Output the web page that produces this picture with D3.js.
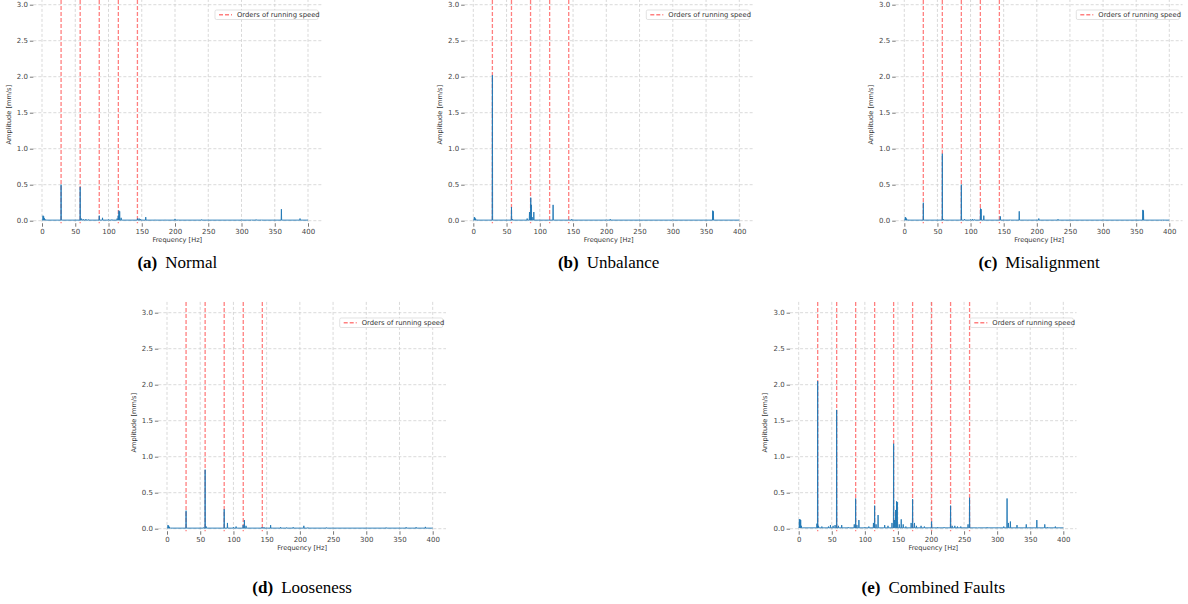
<!DOCTYPE html>
<html>
<head>
<script src="https://d3js.org/d3.v7.min.js"></script>
<style>
  body { margin: 0; background: #fff; }
</style>
</head>
<body>
<svg id="fig" width="1188" height="604"></svg>
<script>
// ---- values ----
const freqTicks = [0, 50, 100, 150, 200, 250, 300, 350, 400];
const ampTicks = [0, 0.5, 1.0, 1.5, 2.0, 2.5, 3.0];
const runningSpeed = 28.7; // Hz
const ordersFive = [1, 2, 3, 4, 5];
const ordersNine = [1, 2, 3, 4, 5, 6, 7, 8, 9];

// spectrum peaks as [frequency Hz, amplitude mm/s]
const normalPeaks = [[1.5, 0.07], [2.5, 0.06], [3.5, 0.035], [4.5, 0.02], [6, 0.012],
  [28.7, 0.5], [57.4, 0.47], [59, 0.03], [62, 0.02], [66, 0.02], [70, 0.015],
  [86.1, 0.07], [91, 0.04], [100, 0.015], [105, 0.015], [113, 0.03], [114.6, 0.07],
  [115.6, 0.14], [116.8, 0.13], [119, 0.04], [143.6, 0.03], [146, 0.03], [148, 0.02],
  [156, 0.05], [170, 0.012], [185, 0.012], [200, 0.025], [205, 0.012], [240, 0.015],
  [300, 0.012], [315, 0.012], [322, 0.015], [330, 0.012], [360, 0.16], [388, 0.03]];
const unbalancePeaks = [[1.5, 0.05], [2.5, 0.04], [3.5, 0.025], [5, 0.012],
  [28.7, 2.02], [57.4, 0.19], [59, 0.02], [81, 0.03], [84.5, 0.12], [86.4, 0.32],
  [87.3, 0.22], [88.5, 0.05], [91, 0.12], [120, 0.22], [148, 0.02], [200, 0.012],
  [206, 0.02], [300, 0.012], [360, 0.14], [361, 0.13]];
const misalignmentPeaks = [[1.5, 0.05], [2.5, 0.04], [3.5, 0.025], [5, 0.012],
  [28.7, 0.25], [57.4, 0.93], [59, 0.02], [86.1, 0.5], [91, 0.02], [100, 0.015],
  [103, 0.02], [106, 0.015], [115, 0.17], [116, 0.16], [120, 0.07], [145, 0.06],
  [160, 0.012], [173.5, 0.13], [185, 0.01], [203, 0.03], [232, 0.02], [300, 0.012],
  [360, 0.15], [361, 0.14], [390, 0.012]];
const loosenessPeaks = [[1.5, 0.05], [2.5, 0.04], [3.5, 0.025], [5, 0.012],
  [28.7, 0.25], [55, 0.015], [57.4, 0.82], [59, 0.03], [86.1, 0.27], [91, 0.08],
  [100, 0.02], [104, 0.03], [114.6, 0.05], [116.5, 0.12], [119, 0.04], [143, 0.02],
  [146, 0.02], [156, 0.05], [171, 0.02], [180, 0.015], [190, 0.02], [206, 0.04],
  [212, 0.015], [240, 0.015], [330, 0.015], [360, 0.02], [375, 0.02], [389, 0.025]];
const combinedPeaks = [[1, 0.13], [2, 0.13], [3, 0.12], [4, 0.04], [6, 0.015],
  [27.5, 0.07], [28.7, 2.05], [30, 0.04], [35, 0.03], [45, 0.03], [48, 0.05], [52, 0.04],
  [55, 0.05], [57.4, 1.65], [60, 0.04], [65, 0.05], [75, 0.02], [84, 0.06], [86.1, 0.42],
  [88, 0.05], [91, 0.12], [100, 0.02], [106, 0.03], [113, 0.08], [114.8, 0.32],
  [117, 0.06], [120, 0.19], [130, 0.05], [135, 0.04], [141, 0.08], [143.5, 1.18],
  [145, 0.12], [146.5, 0.26], [148, 0.38], [149, 0.37], [152, 0.06], [155, 0.13],
  [158, 0.06], [162, 0.03], [170, 0.08], [172.2, 0.41], [175, 0.08], [178, 0.04],
  [185, 0.04], [190, 0.03], [200.9, 0.1], [210, 0.02], [220, 0.02], [229.6, 0.32],
  [232, 0.04], [236, 0.04], [240, 0.03], [245, 0.03], [256, 0.06], [258.3, 0.43],
  [270, 0.012], [285, 0.02], [310, 0.03], [315, 0.42], [317, 0.08], [320, 0.1],
  [330, 0.05], [344, 0.06], [360, 0.12], [372, 0.06], [376, 0.02], [388, 0.03]];

const captionTags = ["(a)", "(b)", "(c)", "(d)", "(e)"];
const captionNames = ["Normal", "Unbalance", "Misalignment", "Looseness", "Combined Faults"];
const legendLabel = "Orders of running speed";
const xLabel = "Frequency [Hz]";
const yLabel = "Amplitude [mm/s]";

// ---- layout (pixel positions of 0 Hz / 400 Hz and amplitude 0 / 3) ----
const panels = [
  { peaks: normalPeaks, orders: ordersFive, floor: 0.008, x0: 42, x1: 308, y0: 220.7, y1: 4.7, capY: 268 },
  { peaks: unbalancePeaks, orders: ordersFive, floor: 0.008, x0: 473.3, x1: 739.3, y0: 220.7, y1: 4.7, capY: 268 },
  { peaks: misalignmentPeaks, orders: ordersFive, floor: 0.008, x0: 904.3, x1: 1169.3, y0: 220.7, y1: 4.7, capY: 268 },
  { peaks: loosenessPeaks, orders: ordersFive, floor: 0.008, x0: 167, x1: 432.7, y0: 528.7, y1: 312.7, capY: 593 },
  { peaks: combinedPeaks, orders: ordersNine, floor: 0.012, x0: 798.7, x1: 1063.3, y0: 528.7, y1: 312.7, capY: 593 }
];

const svg = d3.select("#fig");

panels.forEach(function(p, i) {
  var x = d3.scaleLinear().domain([0, 400]).range([p.x0, p.x1]);
  var y = d3.scaleLinear().domain([0, 3]).range([p.y0, p.y1]);
  var left = x(-13), right = x(420), bottom = y(-0.035), top = y(3.15);
  var g = svg.append("g");

  // grid
  g.selectAll(".vg").data(freqTicks).enter().append("line")
    .attr("x1", d => x(d)).attr("x2", d => x(d))
    .attr("y1", top).attr("y2", bottom)
    .attr("stroke", "#cfcfcf").attr("stroke-width", 0.8).attr("stroke-dasharray", "3,2");
  g.selectAll(".hg").data(ampTicks).enter().append("line")
    .attr("x1", left).attr("x2", right)
    .attr("y1", d => y(d)).attr("y2", d => y(d))
    .attr("stroke", "#cfcfcf").attr("stroke-width", 0.8).attr("stroke-dasharray", "3,2");

  // orders of running speed
  g.selectAll(".ord").data(p.orders).enter().append("line")
    .attr("x1", d => x(d * runningSpeed)).attr("x2", d => x(d * runningSpeed))
    .attr("y1", top).attr("y2", bottom)
    .attr("stroke", "#ff0000").attr("stroke-opacity", 0.5)
    .attr("stroke-width", 1.3).attr("stroke-dasharray", "4,2");

  // spectrum: each peak rises from the noise floor
  var pts = [[0, p.floor]];
  p.peaks.forEach(function(d) {
    pts.push([d[0] - 0.35, p.floor], [d[0], d[1]], [d[0] + 0.35, p.floor]);
  });
  pts.push([400, p.floor]);
  var line = d3.line().x(d => x(d[0])).y(d => y(d[1]));
  g.append("path").datum(pts)
    .attr("d", line)
    .attr("fill", "none")
    .attr("stroke", "#1f77b4")
    .attr("stroke-width", 0.9)
    .attr("stroke-linejoin", "miter");

  // axes
  var xAxis = d3.axisBottom(x).tickValues(freqTicks).tickSize(3.5).tickPadding(2).tickFormat(d3.format("d"));
  var yAxis = d3.axisLeft(y).tickValues(ampTicks).tickSize(3.5).tickPadding(2).tickFormat(d3.format(".1f"));
  var gx = g.append("g").attr("transform", "translate(0," + bottom + ")").call(xAxis);
  var gy = g.append("g").attr("transform", "translate(" + left + ",0)").call(yAxis);
  [gx, gy].forEach(function(a) {
    a.select(".domain").remove();
    a.selectAll(".tick line").attr("stroke", "#555").attr("stroke-width", 0.8);
    a.selectAll(".tick text").attr("fill", "#444")
      .style("font-family", "DejaVu Sans").style("font-size", "7px");
  });

  g.append("text")
    .attr("x", (left + right) / 2).attr("y", bottom + 18.5)
    .attr("text-anchor", "middle")
    .style("font-family", "DejaVu Sans").style("font-size", "6.6px").attr("fill", "#333")
    .text(xLabel);
  g.append("text")
    .attr("transform", "translate(" + (p.x0 - 31.5) + "," + ((p.y0 + p.y1) / 2 + 2) + ") rotate(-90)")
    .attr("text-anchor", "middle")
    .style("font-family", "DejaVu Sans").style("font-size", "6.6px").attr("fill", "#333")
    .text(yLabel);

  // legend
  var lx = p.x1 + 10 - 103, ly = p.y1 + 5.3;
  var lg = g.append("g").attr("transform", "translate(" + lx + "," + ly + ")");
  lg.append("rect").attr("width", 103).attr("height", 9.5).attr("rx", 1.5)
    .attr("fill", "#fff").attr("fill-opacity", 0.8)
    .attr("stroke", "#d6d6d6").attr("stroke-width", 0.7);
  lg.append("line").attr("x1", 4).attr("x2", 17).attr("y1", 4.75).attr("y2", 4.75)
    .attr("stroke", "#ff0000").attr("stroke-opacity", 0.5)
    .attr("stroke-width", 1.3).attr("stroke-dasharray", "4,2");
  lg.append("text").attr("x", 22).attr("y", 7.1)
    .style("font-family", "DejaVu Sans").style("font-size", "6.8px").attr("fill", "#333")
    .text(legendLabel);

  // caption
  var cap = g.append("text")
    .attr("x", (left + right) / 2).attr("y", p.capY)
    .attr("text-anchor", "middle")
    .style("font-family", "Liberation Serif").style("font-size", "17px").attr("fill", "#000");
  cap.append("tspan").attr("font-weight", "bold").text(captionTags[i]);
  cap.append("tspan").attr("dx", 8).text(captionNames[i]);
});
</script>
</body>
</html>
